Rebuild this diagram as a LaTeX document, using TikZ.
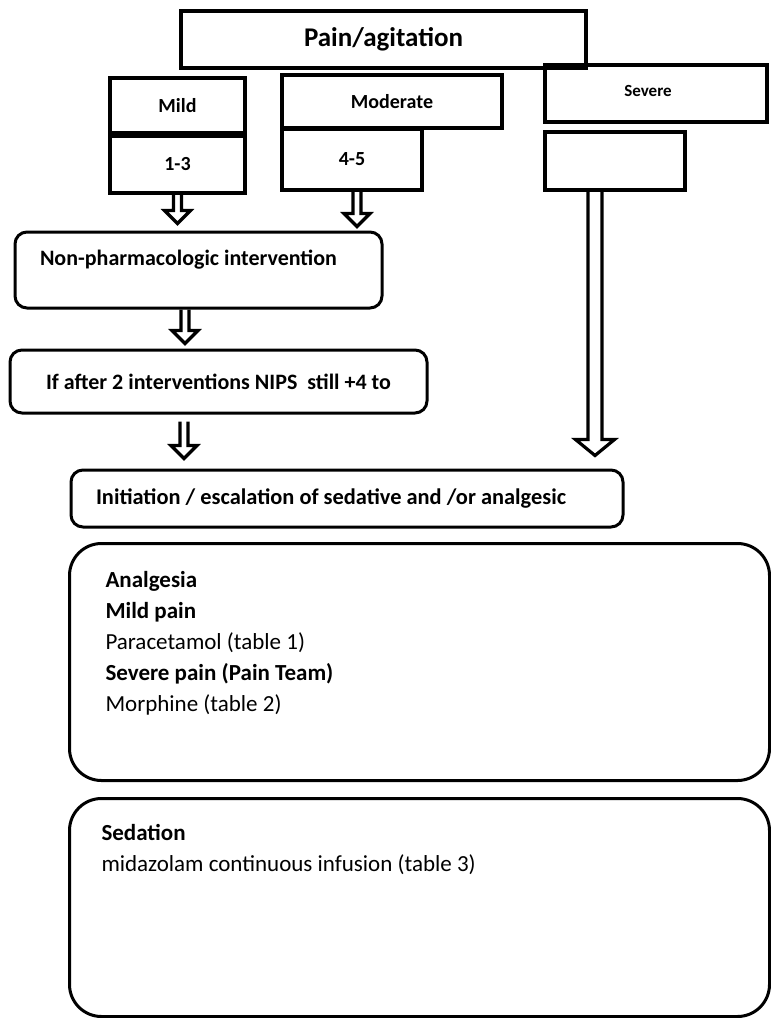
\documentclass[tikz,border=0pt]{standalone}
\usepackage{fontspec}
\setmainfont{Carlito}
\usetikzlibrary{calc}

\begin{document}
\begin{tikzpicture}[
    x=0.5pt, y=-0.5pt,
    box/.style={
        draw,
        line width=1.75pt,
        inner sep=0pt,
        font=\bfseries\fontsize{10}{12}\selectfont
    },
    flow/.style={
        draw,
        line width=1.5pt,
        rounded corners=6pt,
        inner sep=0pt,
        font=\bfseries\fontsize{11}{13}\selectfont
    },
    panel/.style={
        draw,
        line width=1.5pt,
        rounded corners=16pt,
        anchor=north west,
        inner xsep=18pt,
        inner ysep=14pt,
        font=\fontsize{11.5}{15.5}\selectfont
    },
    % hollow down arrow: half gap, half head width, head length
    hollow/.style n args={3}{
        line width=1.6pt,
        to path={
            let \p1=(\tikztostart), \p2=(\tikztotarget) in
            (\x1-#1,\y1) -- (\x1-#1,\y2+#3) -- (\x1-#2,\y2+#3) -- (\x1,\y2)
            -- (\x1+#2,\y2+#3) -- (\x1+#1,\y2+#3) -- (\x1+#1,\y1)
        }
    },
    arrow/.style={hollow={2pt}{6.5pt}{6.5pt}},
    longarrow/.style={hollow={3.5pt}{9.75pt}{8pt}}
]
\useasboundingbox (0,0) rectangle (771,1018);

% score boxes
\node[box, minimum width=202.5pt, minimum height=28.5pt,
      font=\bfseries\fontsize{13.5}{16}\selectfont] (pain) at (383.5,39.5) {Pain/agitation};

\node[box, minimum width=67.5pt, minimum height=27.5pt] (mild) at (177.5,105.5) {Mild};
\node[box, minimum width=67.5pt, minimum height=28.5pt] (mildscore) at (177.5,164.5) {1-3};

\node[box, minimum width=110pt, minimum height=26.5pt] (moderate) at (392,101.5) {Moderate};
\node[box, minimum width=70pt, minimum height=30.5pt] (modscore) at (352,159.5) {4-5};

\node[box, minimum width=111pt, minimum height=28.5pt,
      font=\bfseries\fontsize{8.5}{10}\selectfont, text depth=3pt] (severe) at (656,93.5) {\hspace*{-8pt}Severe};
\node[box, minimum width=70pt, minimum height=29pt] (sevscore) at (615,161) {};

% interventions
\node[flow, text width=158.5pt, align=flush left, inner xsep=12.5pt,
      text height=16.5pt, text depth=21.5pt] (nonpharm) at (198.5,270)
    {Non-pharmacologic intervention};

\node[flow, minimum width=208.5pt, minimum height=31.5pt] (ifafter) at (218.5,381.5)
    {If after 2 interventions NIPS \ still +4 to};

\node[flow, text width=251pt, align=flush left, inner xsep=12.5pt,
      minimum height=28.5pt, font=\bfseries\fontsize{11.2}{13}\selectfont] (initiation) at (347,498.5)
    {Initiation / escalation of sedative and /or analgesic};

% treatment panels
\node[panel] (analgesia) at (68,542)
    {\parbox[c][90.5pt][t]{314pt}{\textbf{Analgesia}\\
     \textbf{Mild pain}\\
     Paracetamol (table 1)\\
     \textbf{Severe pain (Pain Team)}\\
     Morphine (table 2)}};

\node[panel, inner xsep=16pt, inner ysep=13pt] (sedation) at (68,797)
    {\parbox[c][83pt][t]{318pt}{\textbf{Sedation}\\
     midazolam continuous infusion (table 3)}};

% arrows
\draw[arrow] (mildscore.south) to ([yshift=3.5pt]mildscore.south |- nonpharm.north);
\draw[arrow] ([xshift=2.5pt]modscore.south) to ([xshift=2.5pt,yshift=2pt]modscore.south |- nonpharm.north);
\draw[arrow] ([xshift=-6.75pt]nonpharm.south) to ([xshift=-6.75pt,yshift=2.5pt]nonpharm.south |- ifafter.north);
\draw[arrow] ([xshift=-17.25pt,yshift=-3.5pt]ifafter.south) to ([xshift=-17.25pt,yshift=5pt]ifafter.south |- initiation.north);
\draw[longarrow] ([xshift=-10pt]sevscore.south) to ([xshift=-10pt,yshift=6.5pt]sevscore.south |- initiation.north);

\end{tikzpicture}
\end{document}
